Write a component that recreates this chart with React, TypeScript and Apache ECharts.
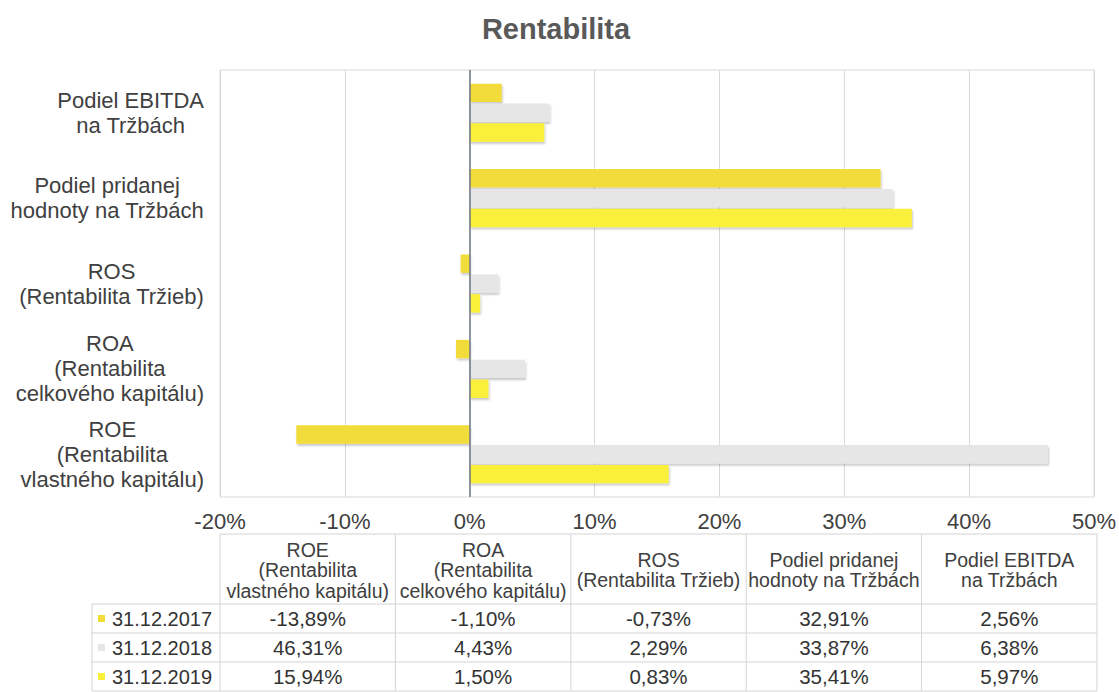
import React, { useEffect, useRef } from 'react';
import * as echarts from 'echarts';

const categories = [
  'ROE\n(Rentabilita\nvlastného kapitálu)',
  'ROA\n(Rentabilita\ncelkového kapitálu)',
  'ROS\n(Rentabilita Tržieb)',
  'Podiel pridanej\nhodnoty na Tržbách',
  'Podiel EBITDA\nna Tržbách',
];
const seriesNames = ['31.12.2017', '31.12.2018', '31.12.2019'];
const values2017 = [-13.89, -1.1, -0.73, 32.91, 2.56];
const values2018 = [46.31, 4.43, 2.29, 33.87, 6.38];
const values2019 = [15.94, 1.5, 0.83, 35.41, 5.97];
const xTicks = [-20, -10, 0, 10, 20, 30, 40, 50];
const seriesColors = ['#f2dc3a', '#e6e6e6', '#faf03a'];

const FONT = '"Liberation Sans", Arial, sans-serif';

export default function App() {
  const ref = useRef<HTMLDivElement>(null);
  useEffect(() => {
    if (!ref.current) return;
    document.body.style.margin = '0';
    const chart = echarts.init(ref.current, undefined, { renderer: 'svg' });
    const W = 1119;
    const gridLeft = 220;
    const gridRight = 22;
    const gridTop = 70;
    const gridBottom = 195;
    const plotW = W - gridLeft - gridRight;
    const colW = plotW / categories.length;
    const allValues = [values2017, values2018, values2019];

    const tHeadTop = 534;
    const tHeadBottom = 604;
    const rowBottoms = [633, 662, 691];
    const rowHeadLeft = 92;
    const border = '#d4d4d4';

    const els: any[] = [];
    const line = (x1: number, y1: number, x2: number, y2: number) =>
      els.push({
        type: 'line',
        silent: true,
        shape: { x1, y1, x2, y2 },
        style: { stroke: border, lineWidth: 1 },
      });
    line(gridLeft, tHeadTop, gridLeft + plotW, tHeadTop);
    line(rowHeadLeft, tHeadBottom, gridLeft + plotW, tHeadBottom);
    rowBottoms.forEach((y) => line(rowHeadLeft, y, gridLeft + plotW, y));
    for (let i = 0; i <= categories.length; i++) {
      line(gridLeft + i * colW, tHeadTop, gridLeft + i * colW, rowBottoms[2]);
    }
    line(rowHeadLeft, tHeadBottom, rowHeadLeft, rowBottoms[2]);

    categories.forEach((c, i) => {
      els.push({
        type: 'text',
        silent: true,
        x: gridLeft + (i + 0.5) * colW,
        y: (tHeadTop + tHeadBottom) / 2 + 1,
        style: {
          text: c,
          fill: '#404040',
          fontSize: 19.5,
          fontFamily: FONT,
          lineHeight: 20.5,
          align: 'center',
          verticalAlign: 'middle',
          textAlign: 'center',
          textVerticalAlign: 'middle',
        },
      });
    });
    const rowTops = [tHeadBottom, rowBottoms[0], rowBottoms[1]];
    seriesNames.forEach((name, r) => {
      const cy = (rowTops[r] + rowBottoms[r]) / 2;
      els.push({
        type: 'rect',
        silent: true,
        shape: { x: 98, y: cy - 3.5, width: 7, height: 7 },
        style: { fill: seriesColors[r] },
      });
      els.push({
        type: 'text',
        silent: true,
        x: 112,
        y: cy,
        style: {
          text: name,
          fill: '#333333',
          fontSize: 20,
          fontFamily: FONT,
          align: 'left',
          verticalAlign: 'middle',
          textAlign: 'left',
          textVerticalAlign: 'middle',
        },
      });
      allValues[r].forEach((v, i) => {
        els.push({
          type: 'text',
          silent: true,
          x: gridLeft + (i + 0.5) * colW,
          y: cy,
          style: {
            text: v.toFixed(2).replace('.', ',') + '%',
            fill: '#333333',
            fontSize: 20.5,
            fontFamily: FONT,
            align: 'center',
            verticalAlign: 'middle',
            textAlign: 'center',
            textVerticalAlign: 'middle',
          },
        });
      });
    });

    const barStyle = (color: string) => ({
      color,
      shadowColor: 'rgba(0,0,0,0.22)',
      shadowBlur: 2,
      shadowOffsetX: 1,
      shadowOffsetY: 2,
    });

    chart.setOption({
      animation: false,
      backgroundColor: '#ffffff',
      textStyle: { fontFamily: FONT },
      title: {
        text: 'Rentabilita',
        left: 551,
        textAlign: 'center',
        top: 9,
        textStyle: { fontSize: 29, fontWeight: 'bold', color: '#595959', fontFamily: FONT },
      },
      grid: {
        left: gridLeft,
        right: gridRight,
        top: gridTop,
        bottom: gridBottom,
        show: true,
        borderColor: '#d9d9d9',
        borderWidth: 1,
        containLabel: false,
      },
      xAxis: {
        type: 'value',
        min: xTicks[0],
        max: xTicks[xTicks.length - 1],
        interval: 10,
        axisLine: { show: false },
        axisTick: { show: false },
        splitLine: { show: true, lineStyle: { color: '#d9d9d9', width: 1 } },
        axisLabel: {
          formatter: (v: number) => `${v}%`,
          fontSize: 22,
          color: '#404040',
          margin: 13,
          fontFamily: FONT,
        },
      },
      yAxis: {
        type: 'category',
        data: categories,
        axisLine: { show: false, onZero: false },
        axisTick: { show: false },
        splitLine: { show: false },
        axisLabel: {
          align: 'right',
          margin: 16,
          formatter: (v: string) =>
            v
              .split('\n')
              .map((l) => `{c|${l}}`)
              .join('\n'),
          rich: {
            c: {
              align: 'center',
              fontSize: 22,
              lineHeight: 25,
              color: '#404040',
              fontFamily: FONT,
            },
          },
        },
      },
      series: [
        {
          name: seriesNames[0],
          type: 'bar',
          data: values2017,
          barGap: '8%',
          barCategoryGap: '32%',
          itemStyle: barStyle(seriesColors[0]),
          markLine: {
            silent: true,
            symbol: 'none',
            label: { show: false },
            lineStyle: { color: '#6f7784', width: 1.5, type: 'solid' },
            data: [{ xAxis: 0 }],
          },
        },
        {
          name: seriesNames[1],
          type: 'bar',
          data: values2018,
          barGap: '8%',
          barCategoryGap: '32%',
          itemStyle: barStyle(seriesColors[1]),
        },
        {
          name: seriesNames[2],
          type: 'bar',
          data: values2019,
          barGap: '8%',
          barCategoryGap: '32%',
          itemStyle: barStyle(seriesColors[2]),
        },
      ],
      graphic: { elements: els },
    });
    return () => chart.dispose();
  }, []);
  return <div ref={ref} style={{ width: 1119, height: 692 }} />;
}
